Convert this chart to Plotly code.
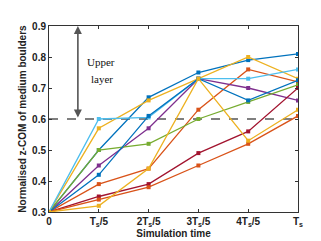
import plotly.graph_objects as go

PALETTE = ['#0072BD', '#D95319', '#EDB120', '#7E2F8E', '#77AC30', '#4DBEEE', '#A2142F']

t = [0, 1, 2, 3, 4, 5]
tick_labels = ['0', 'T<sub>s</sub>/5', '2T<sub>s</sub>/5', '3T<sub>s</sub>/5', '4T<sub>s</sub>/5', 'T<sub>s</sub>']

blue_a   = [0.30, 0.50, 0.67, 0.75, 0.79, 0.81]
orange_a = [0.30, 0.39, 0.44, 0.63, 0.76, 0.72]
yellow_a = [0.30, 0.57, 0.66, 0.73, 0.80, 0.73]
purple   = [0.30, 0.45, 0.57, 0.73, 0.70, 0.66]
green    = [0.30, 0.50, 0.52, 0.60, 0.655, 0.71]
ltblue   = [0.30, 0.60, 0.605, 0.73, 0.73, 0.76]
darkred  = [0.30, 0.35, 0.39, 0.49, 0.56, 0.70]
blue_b   = [0.30, 0.42, 0.61, 0.73, 0.66, 0.725]
orange_b = [0.30, 0.34, 0.38, 0.45, 0.52, 0.61]
yellow_b = [0.30, 0.32, 0.44, 0.73, 0.53, 0.63]

series = [blue_a, orange_a, yellow_a, purple, green, ltblue, darkred, blue_b, orange_b, yellow_b]

upper_limit = 0.6

fig = go.Figure()

# dashed boundary of the upper layer
fig.add_trace(go.Scatter(x=[t[0], t[-1]], y=[upper_limit, upper_limit], mode='lines',
                         line=dict(color='#555555', width=1.5, dash='dash'),
                         showlegend=False, hoverinfo='skip'))

for i, s in enumerate(series):
    fig.add_trace(go.Scatter(
        x=t, y=s, mode='lines+markers', showlegend=False,
        line=dict(color=PALETTE[i % len(PALETTE)], width=1.3),
        marker=dict(color=PALETTE[i % len(PALETTE)], size=4, symbol='square'),
    ))

# double arrow for the upper layer
fig.add_annotation(x=0.58, y=0.9, ax=0.58, ay=upper_limit, xref='x', yref='y',
                   axref='x', ayref='y', text='', showarrow=True,
                   arrowhead=2, arrowside='end+start', arrowsize=1,
                   arrowwidth=1.6, arrowcolor='#555555')
fig.add_annotation(x=1.04, y=0.785, xref='x', yref='y', text='Upper', showarrow=False,
                   font=dict(family='Liberation Serif', size=11, color='#111111'))
fig.add_annotation(x=1.06, y=0.73, xref='x', yref='y', text='layer', showarrow=False,
                   font=dict(family='Liberation Serif', size=11, color='#111111'))

axis_font = dict(family='Liberation Sans, Arial, sans-serif', size=10, color='#222222', weight='bold')

fig.update_layout(
    width=321, height=241,
    margin=dict(l=41, r=31, t=18, b=32),
    plot_bgcolor='white', paper_bgcolor='white',
    xaxis=dict(range=[0, 5], tickvals=t, ticktext=tick_labels, tickfont=axis_font,
               title=dict(text='Simulation time', font=axis_font, standoff=2),
               showgrid=False, zeroline=False, showline=True, linecolor='#333333',
               linewidth=1, mirror='ticks', ticks='inside', ticklen=3, tickcolor='#333333'),
    yaxis=dict(range=[0.3, 0.9], tickvals=[0.3, 0.4, 0.5, 0.6, 0.7, 0.8, 0.9],
               tickformat='.1f', tickfont=axis_font,
               title=dict(text='Normalised z-COM of medium boulders', font=axis_font, standoff=3),
               showgrid=False, zeroline=False, showline=True, linecolor='#333333',
               linewidth=1, mirror='ticks', ticks='inside', ticklen=3, tickcolor='#333333'),
)

fig.write_html("out.html")
